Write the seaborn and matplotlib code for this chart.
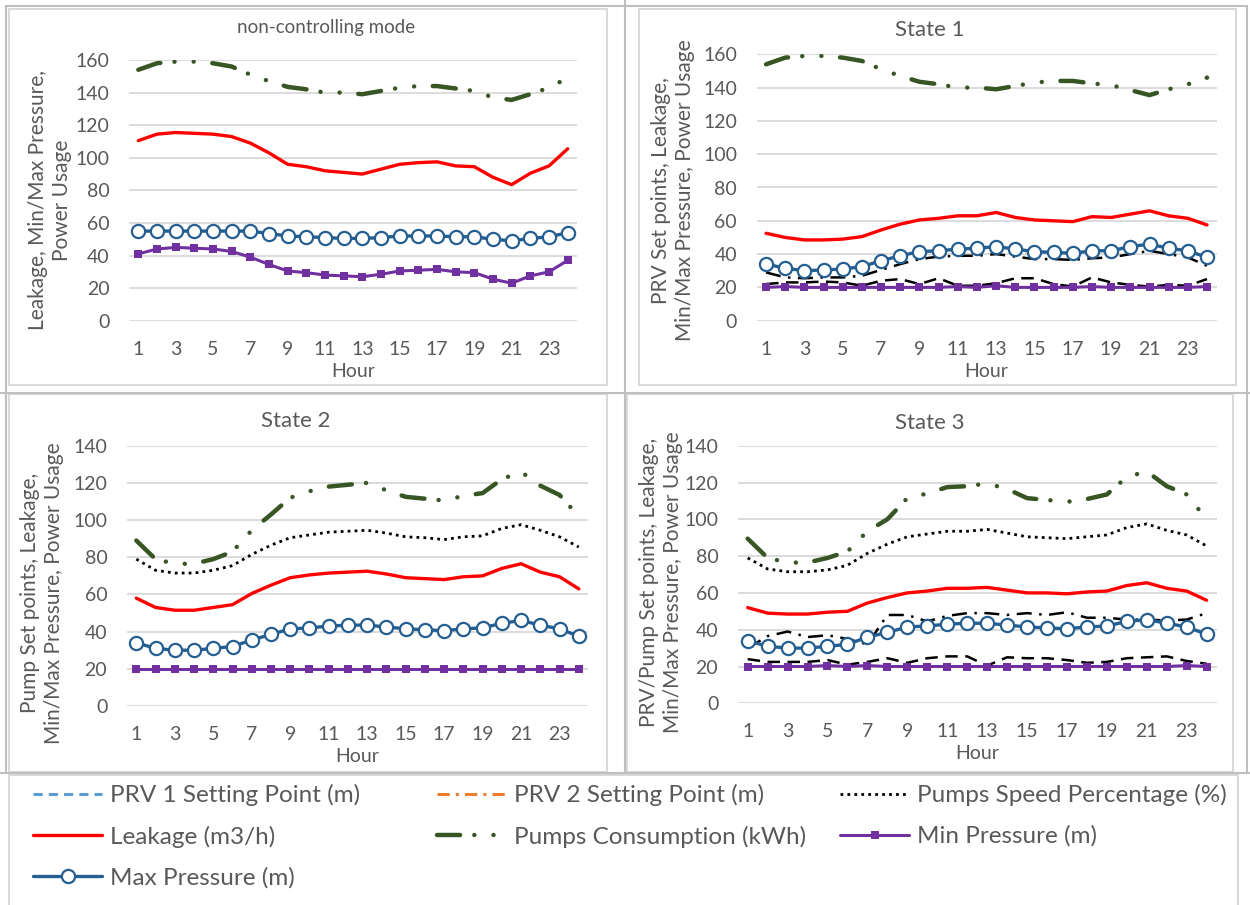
import matplotlib
matplotlib.use('Agg')
import matplotlib.pyplot as plt
import seaborn as sns
from matplotlib.lines import Line2D
from matplotlib.patches import Rectangle

# Hours on the x axis
hours = list(range(1, 25))

# non-controlling mode
nc_leakage = [110.5, 114.5, 115.5, 115, 114.5, 113, 109, 103, 96, 94.5, 92, 91, 90, 93, 96, 97, 97.5, 95, 94.5, 88, 83.5, 90.5, 95, 105.5]
nc_consumption = [154, 158, 159, 159, 158, 156, 151, 147, 143.5, 142, 140, 140, 139, 141, 143, 144, 144, 142.5, 141, 137, 135.5, 139, 143, 149]
nc_min = [41, 44, 45, 44.5, 44, 42.5, 39, 34.5, 30.5, 29.5, 28, 27.5, 27, 28.5, 30.5, 31, 31.5, 30, 29.5, 25.5, 23, 27.5, 30, 37]
nc_max = [55, 55, 55, 55, 55, 55, 55, 53.5, 52, 51.5, 51, 50.5, 50.5, 51, 52, 52, 52, 51.5, 51.5, 50, 49, 50.5, 51.5, 54]

# State 1 (PRV control)
s1_prv1 = [22, 23, 23, 23.5, 23, 21, 24, 25, 22, 25.5, 21, 21, 22.5, 25.5, 25.5, 22, 20.5, 26, 23, 21.5, 20.5, 21.5, 21, 25]
s1_prv2 = [29, 26, 25.5, 26, 26, 27, 30.5, 34, 37, 38.5, 39, 39, 40, 38.5, 37, 37, 36.5, 37.5, 38, 40, 42, 40, 38, 33]
s1_leakage = [52.5, 50, 48.5, 48.5, 49, 50.5, 54.5, 58, 60.5, 61.5, 63, 63, 65, 62, 60.5, 60, 59.5, 62.5, 62, 64, 66, 63, 61.5, 57.5]
s1_consumption = [154, 158, 159, 159, 158, 156, 151, 147, 143.5, 142, 140, 140, 139, 141, 143, 144, 144, 142.5, 141.5, 138.5, 135.5, 139, 142, 146]
s1_min = [20, 20.5, 20, 20, 20, 20, 20, 20, 20, 20, 20.5, 20, 21, 20, 20, 20, 20, 20.5, 20, 20, 20, 20, 20, 20.5]
s1_max = [34, 31.5, 30, 30.5, 31, 32.5, 36, 39, 41.5, 42, 43, 43.5, 44.5, 43, 41.5, 41, 40.5, 42, 42, 44.5, 46, 43.5, 42, 38]

# State 2 (pump control)
s2_speed = [79, 73, 71.5, 71.5, 73, 75.5, 81.5, 86.5, 90.5, 92, 93.5, 94, 94.5, 93, 91, 90.5, 89.5, 91, 91.5, 95.5, 97.5, 94.5, 91, 85.5]
s2_leakage = [58, 53, 51.5, 51.5, 53, 54.5, 60.5, 65, 69, 70.5, 71.5, 72, 72.5, 71, 69, 68.5, 68, 69.5, 70, 74, 76.5, 72, 69.5, 63]
s2_consumption = [89, 79, 76.5, 76.5, 79, 83, 94.5, 103, 112, 115.5, 118, 119, 120, 116, 112.5, 111.5, 110.5, 113, 114.5, 122, 126, 118.5, 113.5, 102]
s2_min = [20, 20, 20, 20, 20, 20, 20, 20, 20, 20, 20, 20, 20, 20, 20, 20, 20, 20, 20, 20, 20, 20, 20, 20]
s2_max = [34, 31, 30, 30, 31, 32, 35.5, 38.5, 41.5, 42, 43, 43.5, 43.5, 42.5, 41.5, 41, 40.5, 41.5, 42, 44.5, 46, 43.5, 41.5, 37.5]

# State 3 (PRV + pump control)
s3_prv1 = [24, 22.5, 22.5, 22.5, 23.5, 21, 22.5, 24.5, 22, 24.5, 25.5, 25.5, 20.5, 25, 24.5, 24.5, 23.5, 22, 22.5, 24.5, 25, 25.5, 23, 21.5]
s3_prv2 = [30, 36.5, 39, 36, 37, 35, 32, 48, 48, 44.5, 47.5, 49, 49, 48, 49, 48, 49.5, 46.5, 46.5, 45.5, 45.5, 45, 45.5, 49]
s3_speed = [79, 73, 71.5, 71.5, 72.5, 75, 81.5, 86.5, 90.5, 92, 93.5, 93.5, 94.5, 92.5, 90.5, 90, 89.5, 90.5, 91.5, 95.5, 97.5, 94, 91.5, 85.5]
s3_leakage = [52, 49, 48.5, 48.5, 49.5, 50, 54.5, 57.5, 60, 61, 62.5, 62.5, 63, 61.5, 60, 60, 59.5, 60.5, 61, 64, 65.5, 62.5, 61, 56]
s3_consumption = [89.5, 79, 76.5, 76.5, 79, 82.5, 93.5, 100, 111.5, 114, 117.5, 118, 119.5, 116.5, 111.5, 110.5, 109.5, 111, 113.5, 123, 126, 118, 113.5, 100]
s3_min = [20, 20, 20, 20, 20.5, 20, 20.5, 20, 20, 20, 20, 20, 20, 20, 20, 20, 20, 20, 20, 20, 20, 20, 20.5, 20]
s3_max = [34, 31, 30, 30, 31, 32, 36, 38.5, 41.5, 42, 43, 43.5, 43.5, 42.5, 41.5, 41, 40.5, 41.5, 42, 44.5, 45.5, 43.5, 41.5, 37.5]

sns.set_theme(style='white')
plt.rcParams['font.family'] = ['Lato', 'DejaVu Sans']
text_color = '#595959'

W, H = 1250, 905
fig = plt.figure(figsize=(W / 100, H / 100), dpi=100)


def px_rect(left, top, right, bottom):
    # pixel box (top-left origin) -> figure fraction [l, b, w, h]
    return [left / W, 1 - bottom / H, (right - left) / W, (bottom - top) / H]


# line styles
style_prv1 = dict(color='black', lw=1.8, linestyle=(0, (5, 3)))
style_prv2 = dict(color='black', lw=1.8, linestyle=(0, (6, 3, 1, 3)))
style_speed = dict(color='black', lw=2.0, linestyle=(0, (1, 1.5)))
style_leak = dict(color='#FF0000', lw=2.4, linestyle='-')
style_cons = dict(color='#375623', lw=3.2, linestyle=(0, (5.2, 3.2, 0.01, 4.3, 0.01, 4.2)),
                  dash_capstyle='round')
style_min = dict(color='#7030A0', lw=2.2, linestyle='-', marker='s', markersize=5.5, markeredgewidth=0)
style_max = dict(color='#255E91', lw=2.4, linestyle='-', marker='o', markersize=9.5,
                 markerfacecolor='white', markeredgecolor='#255E91', markeredgewidth=1.6)


def draw_panel(ax, series, ymax, title, title_x, title_pad, title_size, ylabel, label_x, label_y):
    for vals, st in series:
        sns.lineplot(x=hours, y=vals, ax=ax, **st)
    ax.set_xlim(0.5, 24.5)
    ax.set_ylim(0, ymax)
    ax.set_yticks(range(0, ymax + 1, 20))
    ax.set_xticks(range(1, 24, 2))
    ax.yaxis.grid(True, color='#d9d9d9', lw=1.3)
    ax.xaxis.grid(False)
    ax.set_axisbelow(True)
    for s in ax.spines.values():
        s.set_visible(False)
    ax.tick_params(axis='y', length=0, pad=14, labelsize=14, labelcolor=text_color)
    ax.tick_params(axis='x', length=0, pad=14.5, labelsize=14, labelcolor=text_color)
    ax.set_xlabel('Hour', fontsize=14, color=text_color, labelpad=3.5)
    ax.set_ylabel(ylabel, fontsize=15, color=text_color, multialignment='center', linespacing=1.25)
    ax.yaxis.set_label_coords(label_x, label_y)
    ax.set_title(title, fontsize=title_size, color=text_color, x=title_x, pad=title_pad)


# panel frames
for box in [(9, 9, 607, 385), (639, 9, 1236, 385), (9, 394, 607, 772), (627, 394, 1233, 772), (9, 775, 1238, 910)]:
    l, t, r, b = box
    fig.add_artist(Rectangle((l / W, 1 - b / H), (r - l) / W, (b - t) / H, transform=fig.transFigure,
                             fill=False, edgecolor='#d9d9d9', lw=1.5))
for l, t, r, b in [(625, 0, 625, 773), (0, 393, 1250, 393), (0, 773, 1250, 773),
                   (6, 6, 6, 773), (6, 6, 1247, 6), (1247, 6, 1247, 773)]:
    fig.add_artist(Line2D([l / W, r / W], [1 - t / H, 1 - b / H], transform=fig.transFigure,
                          color='#bfbfbf', lw=1.5))

ax1 = fig.add_axes(px_rect(129, 60, 577, 320.7))
draw_panel(ax1, [(nc_leakage, style_leak), (nc_consumption, style_cons), (nc_min, style_min), (nc_max, style_max)],
           160, 'non-controlling mode', 0.44, 19.5, 13.5,
           'Leakage, Min/Max Pressure,\nPower Usage', -0.127, 0.463)

ax2 = fig.add_axes(px_rect(756.5, 54.3, 1216.6, 320.7))
draw_panel(ax2, [(s1_prv1, style_prv1), (s1_prv2, style_prv2), (s1_leakage, style_leak), (s1_consumption, style_cons),
                 (s1_min, style_min), (s1_max, style_max)],
           160, 'State 1', 0.377, 13.5, 16,
           'PRV Set points, Leakage,\nMin/Max Pressure, Power Usage', -0.134, 0.49)

ax3 = fig.add_axes(px_rect(126.7, 445.7, 588.4, 706))
draw_panel(ax3, [(s2_speed, style_speed), (s2_leakage, style_leak), (s2_consumption, style_cons),
                 (s2_min, style_min), (s2_max, style_max)],
           140, 'State 2', 0.367, 13.5, 16,
           'Pump Set points, Leakage,\nMin/Max Pressure, Power Usage', -0.136, 0.434)

ax4 = fig.add_axes(px_rect(737.7, 445.7, 1216.6, 703.3))
draw_panel(ax4, [(s3_prv1, style_prv1), (s3_prv2, style_prv2), (s3_speed, style_speed), (s3_leakage, style_leak),
                 (s3_consumption, style_cons), (s3_min, style_min), (s3_max, style_max)],
           140, 'State 3', 0.40, 12, 16,
           'PRV/Pump Set points, Leakage,\nMin/Max Pressure, Power Usage', -0.114, 0.47)

# legend, laid out as three columns
legend_cols = [
    (33, [('PRV 1 Setting Point (m)', dict(color='#5B9BD5', lw=2.2, linestyle=(0, (3, 2)))),
          ('Leakage (m3/h)', style_leak),
          ('Max Pressure (m)', style_max)]),
    (437, [('PRV 2 Setting Point (m)', dict(color='#ED7D31', lw=2.2, linestyle=(0, (4, 2, 1, 2)))),
           ('Pumps Consumption (kWh)', style_cons)]),
    (840, [('Pumps Speed Percentage (%)', style_speed),
           ('Min Pressure (m)', style_min)]),
]
for x0, items in legend_cols:
    handles = [Line2D([], [], **st) for _, st in items]
    labels = [lab for lab, _ in items]
    leg = fig.legend(handles, labels, loc='upper left', bbox_to_anchor=(x0 / W, 1 - 784 / H),
                     frameon=False, fontsize=17.5, handlelength=2.85, handletextpad=0.3,
                     labelspacing=0.8, borderpad=0, borderaxespad=0)
    for t in leg.get_texts():
        t.set_color(text_color)

fig.savefig('out.png', dpi=100)
